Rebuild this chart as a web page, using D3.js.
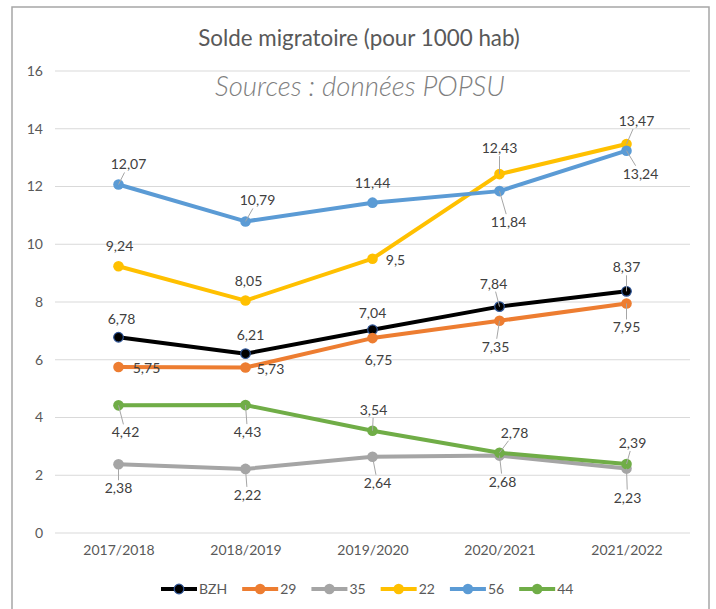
<!DOCTYPE html>
<html>
<head>
<meta charset="utf-8">
<script src="https://cdn.jsdelivr.net/npm/d3@7"></script>
<style>
  body { margin: 0; background: #fff; }
  svg { display: block; font-family: Lato, "Open Sans", sans-serif; }
</style>
</head>
<body>
<svg id="chart" width="716" height="609"></svg>
<script>
// data
var years = ["2017/2018", "2018/2019", "2019/2020", "2020/2021", "2021/2022"];
var bzh = [6.78, 6.21, 7.04, 7.84, 8.37];
var d29 = [5.75, 5.73, 6.75, 7.35, 7.95];
var d35 = [2.38, 2.22, 2.64, 2.68, 2.23];
var d22 = [9.24, 8.05, 9.5, 12.43, 13.47];
var d56 = [12.07, 10.79, 11.44, 11.84, 13.24];
var d44 = [4.42, 4.43, 3.54, 2.78, 2.39];
var seriesNames = ["BZH", "29", "35", "22", "56", "44"];
var yTicks = [0, 2, 4, 6, 8, 10, 12, 14, 16];

// styling / label placement (not data)
var colors = {"BZH": "#000000", "29": "#ED7D31", "35": "#A5A5A5", "22": "#FFC000", "56": "#5B9BD5", "44": "#70AD47"};
// [dx, dy, leader] of each label centre relative to its point
var labelPos = {
  "BZH": [[3,-18,0],[5,-19,0],[0,-17,0],[-6,-23,1],[0,-24,1]],
  "29":  [[28,1,0],[25,2,0],[6,22,0],[-4,26,1],[0,24,1]],
  "35":  [[0,24,1],[2,26,1],[5,26,1],[3,26,1],[1,29,1]],
  "22":  [[1,-20,0],[3,-19,0],[23,1,0],[0,-26,1],[10,-23,1]],
  "56":  [[10,-20,1],[12,-21,1],[0,-20,0],[9,31,1],[14,23,1]],
  "44":  [[7,27,1],[2,27,1],[1,-21,1],[15,-20,1],[6,-21,1]]
};

var values = {"BZH": bzh, "29": d29, "35": d35, "22": d22, "56": d56, "44": d44};
var series = seriesNames.map(function(n) {
  return { name: n, points: years.map(function(y, i) { return { year: y, value: values[n][i], i: i }; }) };
});

var svg = d3.select("#chart");

var x = d3.scalePoint().domain(years).range([55, 690]).padding(0.5);
var y = d3.scaleLinear().domain([0, 16]).range([533, 71]);

var fmt = function(v) { return String(v).replace(".", ","); };

// fit a text element to a target width by scaling its font size
function fitWidth(sel, target) {
  var w = sel.node().getComputedTextLength();
  var fs = +sel.attr("font-size");
  sel.attr("font-size", fs * target / w);
}

// frame
svg.append("rect")
  .attr("x", 12).attr("y", 7).attr("width", 697).attr("height", 620)
  .attr("fill", "#fff").attr("stroke", "#a6a6a6").attr("stroke-width", 1.5);

// gridlines
svg.append("g")
  .selectAll("line")
  .data(yTicks)
  .enter().append("line")
  .attr("x1", 55).attr("x2", 690)
  .attr("y1", function(d) { return y(d); })
  .attr("y2", function(d) { return y(d); })
  .attr("stroke", "#d9d9d9").attr("stroke-width", 1);

// titles
var title = svg.append("text")
  .attr("x", 359).attr("y", 46)
  .attr("text-anchor", "middle")
  .attr("fill", "#595959").attr("font-size", 20)
  .text("Solde migratoire (pour 1000 hab)");
fitWidth(title, 322);

var sub = svg.append("text")
  .attr("x", 360).attr("y", 96)
  .attr("text-anchor", "middle")
  .attr("fill", "#7f7f7f").attr("font-size", 24).attr("font-style", "italic").attr("font-weight", 300)
  .text("Sources : données POPSU");
fitWidth(sub, 290);

// y axis labels
var yAxis = svg.append("g")
  .attr("transform", "translate(43,0)")
  .call(d3.axisLeft(y).tickValues(yTicks).tickSize(0).tickPadding(0));
yAxis.select(".domain").remove();
yAxis.selectAll("text").attr("fill", "#595959").attr("font-size", 14).attr("font-family", "Lato, 'Open Sans', sans-serif");

// x axis labels
var xAxis = svg.append("g")
  .attr("transform", "translate(0,545)")
  .call(d3.axisBottom(x).tickSize(0).tickPadding(0));
xAxis.select(".domain").remove();
xAxis.selectAll("text").attr("fill", "#595959").attr("font-size", 14).attr("font-family", "Lato, 'Open Sans', sans-serif");

// lines
var line = d3.line()
  .x(function(d) { return x(d.year); })
  .y(function(d) { return y(d.value); });

var gSeries = svg.append("g")
  .selectAll(".series")
  .data(series)
  .enter().append("g")
  .attr("class", "series");

gSeries.append("path")
  .attr("d", function(d) { return line(d.points); })
  .attr("fill", "none")
  .attr("stroke", function(d) { return colors[d.name]; })
  .attr("stroke-width", 4)
  .attr("stroke-linejoin", "round");

gSeries.selectAll("circle")
  .data(function(d) { return d.points.map(function(p) { return Object.assign({ name: d.name }, p); }); })
  .enter().append("circle")
  .attr("cx", function(d) { return x(d.year); })
  .attr("cy", function(d) { return y(d.value); })
  .attr("r", function(d) { return d.name === "BZH" ? 4.8 : 5.3; })
  .attr("fill", function(d) { return colors[d.name]; })
  .attr("stroke", function(d) { return d.name === "BZH" ? "#2F5597" : "none"; })
  .attr("stroke-width", 1.2);

// data labels + leader lines
var labels = [];
series.forEach(function(s) {
  s.points.forEach(function(p, i) {
    var o = labelPos[s.name][i];
    labels.push({ px: x(p.year), py: y(p.value), dx: o[0], dy: o[1], leader: o[2], text: fmt(p.value) });
  });
});

var gLab = svg.append("g");
var labText = gLab.selectAll("text")
  .data(labels)
  .enter().append("text")
  .attr("x", function(d) { return d.px + d.dx; })
  .attr("y", function(d) { return d.py + d.dy; })
  .attr("dy", "0.35em")
  .attr("text-anchor", "middle")
  .attr("fill", "#404040")
  .attr("font-size", 14)
  .text(function(d) { return d.text; });

labText.each(function(d) { d.w = this.getComputedTextLength(); });

gLab.selectAll("line")
  .data(labels.filter(function(d) { return d.leader; }))
  .enter().insert("line", "text")
  .each(function(d) {
    var cx = d.px + d.dx, cy = d.py + d.dy;
    var vx = d.px - cx, vy = d.py - cy;
    var hw = d.w / 2 + 1, hh = 8;
    var s = Math.min(vx ? hw / Math.abs(vx) : Infinity, vy ? hh / Math.abs(vy) : Infinity);
    d.sx = cx + s * vx; d.sy = cy + s * vy;
  })
  .attr("x1", function(d) { return d.sx; })
  .attr("y1", function(d) { return d.sy; })
  .attr("x2", function(d) { return d.px; })
  .attr("y2", function(d) { return d.py; })
  .attr("stroke", "#a6a6a6").attr("stroke-width", 1);

// legend
var legend = svg.append("g").attr("transform", "translate(161,589)");
var lx = 0;
seriesNames.forEach(function(n) {
  var g = legend.append("g").attr("transform", "translate(" + lx + ",0)");
  g.append("line").attr("x1", 0).attr("x2", 36).attr("y1", 0).attr("y2", 0)
    .attr("stroke", colors[n]).attr("stroke-width", 4);
  g.append("circle").attr("cx", 18).attr("cy", 0).attr("r", n === "BZH" ? 4.8 : 5.3)
    .attr("fill", colors[n])
    .attr("stroke", n === "BZH" ? "#2F5597" : "none").attr("stroke-width", 1.2);
  var t = g.append("text").attr("x", 38).attr("y", 0).attr("dy", "0.35em")
    .attr("fill", "#595959").attr("font-size", 14).text(n);
  lx += 38 + t.node().getComputedTextLength() + 15;
});
</script>
</body>
</html>
